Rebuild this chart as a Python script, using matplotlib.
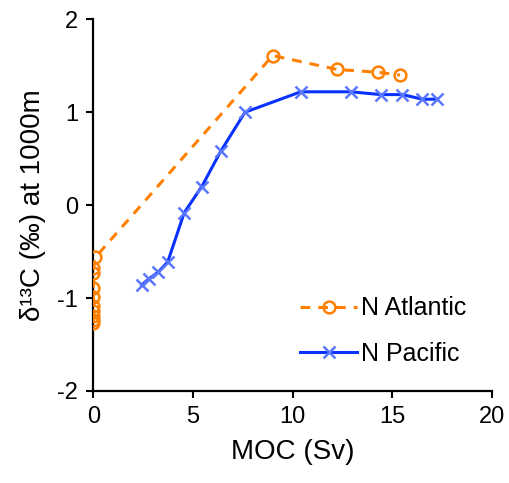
import matplotlib
matplotlib.use("Agg")
import matplotlib.pyplot as plt

plt.rcParams['font.family'] = ['Liberation Sans', 'DejaVu Sans']

# N Atlantic
atl_x = [0.0, 0.0, 0.0, 0.0, 0.0, 0.0, 0.0, 0.0, 0.0, 0.1, 9.0, 12.25, 14.3, 15.4]
atl_y = [-1.27, -1.24, -1.19, -1.14, -1.08, -0.99, -0.89, -0.73, -0.68, -0.56, 1.61, 1.46, 1.43, 1.40]

# N Pacific
pac_x = [2.42, 2.8, 3.26, 3.73, 4.56, 5.44, 6.39, 7.61, 10.41, 12.92, 14.43, 15.52, 16.52, 17.24]
pac_y = [-0.86, -0.79, -0.72, -0.61, -0.08, 0.20, 0.58, 1.00, 1.22, 1.22, 1.19, 1.19, 1.14, 1.14]

xticks = [0, 5, 10, 15, 20]
yticks = [-2, -1, 0, 1, 2]

fig = plt.figure(figsize=(5.10, 4.83), dpi=100)
ax = fig.add_axes([0.1833, 0.1905, 0.9641 - 0.1833, 0.96 - 0.1905])

orange = '#FF8000'
blue = '#0A32FF'

ax.plot(atl_x, atl_y, color=orange, lw=2.2, ls=(0, (3.2, 2.6)),
        marker='o', ms=8.5, mfc='none', mec=orange, mew=1.8, label='N Atlantic', zorder=3)
ax.plot(pac_x, pac_y, color=blue, lw=2.2, ls='-',
        marker='x', ms=8, mec='#5A78FF', mew=1.8, label='N Pacific', zorder=3)

ax.set_xlim(0, 20)
ax.set_ylim(-2, 2)
ax.set_xticks(xticks)
ax.set_yticks(yticks)
ax.set_xticklabels([str(t) for t in xticks])
ax.set_yticklabels([str(t) for t in yticks])

for s in ['top', 'right']:
    ax.spines[s].set_visible(False)
for s in ['left', 'bottom']:
    ax.spines[s].set_linewidth(1.6)
    ax.spines[s].set_zorder(2)
ax.tick_params(direction='out', length=5, width=1.5, labelsize=17, pad=6)

ax.set_xlabel('MOC (Sv)', fontsize=20, labelpad=8)
ax.set_ylabel('δ¹³C (‰) at 1000m', fontsize=20, labelpad=8)

leg = ax.legend(loc='upper left', bbox_to_anchor=(0.5186, 0.2545), frameon=False,
                fontsize=18, handlelength=2.3, handletextpad=0.15, labelspacing=0.85,
                borderpad=0, borderaxespad=0)

fig.savefig('out.png', dpi=100)
